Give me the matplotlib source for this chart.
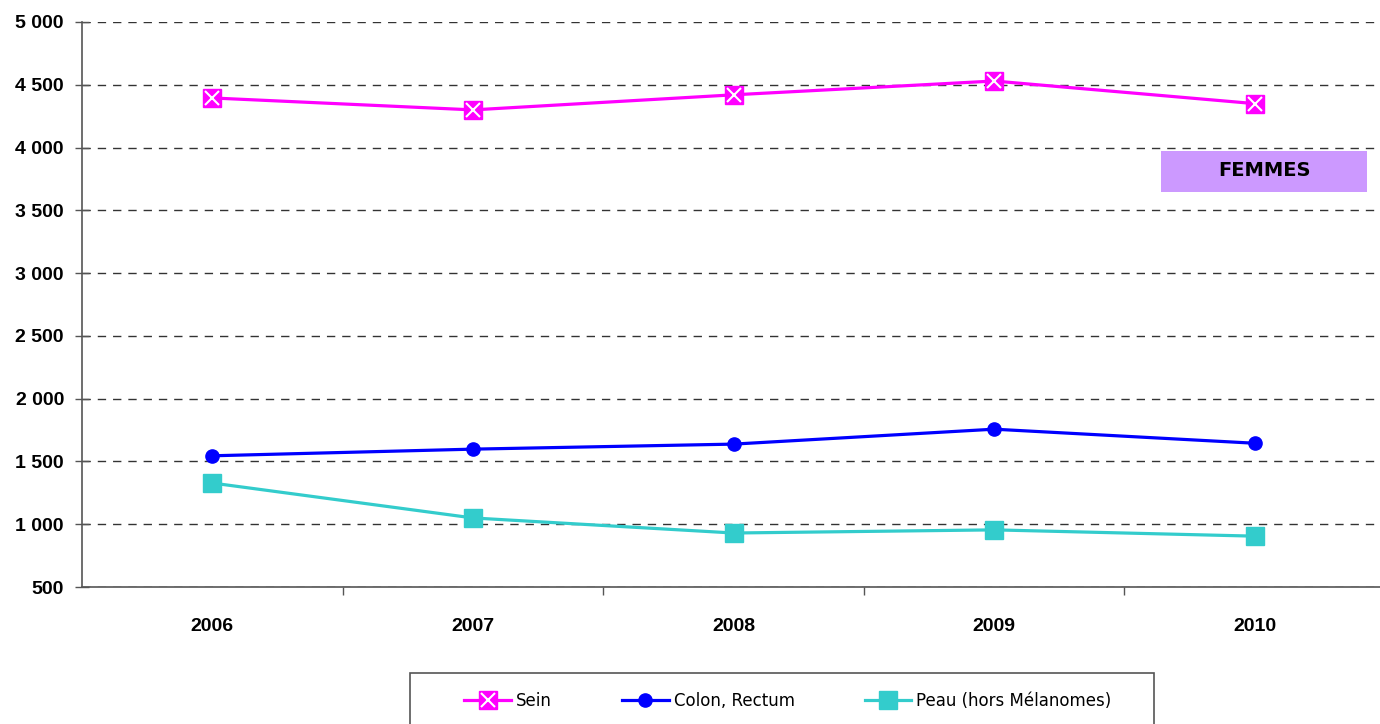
import matplotlib
matplotlib.use("Agg")
import matplotlib.pyplot as plt
from matplotlib.patches import Rectangle
from matplotlib.ticker import FixedLocator, FuncFormatter

years = ["2006", "2007", "2008", "2009", "2010"]
sein = [4395, 4300, 4420, 4530, 4350]
colon = [1545, 1598, 1638, 1757, 1645]
peau = [1328, 1050, 930, 955, 905]
yticks = [500, 1000, 1500, 2000, 2500, 3000, 3500, 4000, 4500, 5000]

W, H = 1380, 724
fig = plt.figure(figsize=(W / 100, H / 100), dpi=100)
ax = fig.add_axes([82 / W, 1 - 587 / H, (1385 - 82) / W, (587 - 22) / H])

x = list(range(len(years)))
pink = "#FF00FF"
blue = "#0000FF"
teal = "#33CCCC"

l1, = ax.plot(x, sein, color=pink, lw=2.3, marker="s", ms=13.5,
              mfc=pink, mec=pink, zorder=4)
l1x, = ax.plot(x, sein, color="none", lw=0, marker="x", ms=9.5,
               mec="white", mew=1.5, zorder=5)
l2, = ax.plot(x, colon, color=blue, lw=2.3, marker="o", ms=9.5,
              mfc=blue, mec=blue, zorder=4)
l3, = ax.plot(x, peau, color=teal, lw=2.3, marker="s", ms=13.5,
              mfc=teal, mec=teal, zorder=3)

ax.set_xlim(-0.5, 4.5)
ax.set_ylim(500, 5000)
ax.yaxis.set_major_locator(FixedLocator(yticks))
ax.yaxis.set_major_formatter(FuncFormatter(lambda v, p: f"{int(v):,}".replace(",", " ")))
ax.set_xticks(x)
ax.set_xticklabels(years)
ax.xaxis.set_minor_locator(FixedLocator([0.5, 1.5, 2.5, 3.5]))

ax.grid(axis="y", color="#333333", linestyle=(0, (6, 5)), lw=1.0)
ax.set_axisbelow(True)
for s in ["top", "right"]:
    ax.spines[s].set_visible(False)
ax.spines["left"].set_color("#555555")
ax.spines["bottom"].set_color("#555555")
ax.spines["left"].set_linewidth(1.2)
ax.spines["bottom"].set_linewidth(1.2)

ax.tick_params(axis="y", direction="inout", length=10, width=1, color="#555555",
               pad=8, labelsize=14)
ax.tick_params(axis="x", which="major", length=0, pad=22, labelsize=14)
ax.tick_params(axis="x", which="minor", direction="out", length=6, width=1,
               color="#555555")
for lab in ax.get_xticklabels() + ax.get_yticklabels():
    lab.set_fontweight("bold")
    lab.set_fontfamily("Liberation Sans")

# FEMMES box
fig.patches.append(Rectangle((1161 / W, 1 - 192 / H), (1367 - 1161) / W, 41 / H,
                             transform=fig.transFigure, facecolor="#CC99FF",
                             edgecolor="none", zorder=1))
fig.text((1161 + 1367) / 2 / W, 1 - 171 / H, "FEMMES", ha="center", va="center",
         fontsize=14, fontweight="bold", family="DejaVu Sans")

# legend frame
fig.patches.append(Rectangle((410 / W, -0.05), (1154 - 410) / W, (1 - 673 / H) + 0.05,
                             transform=fig.transFigure, facecolor="white",
                             edgecolor="#555555", lw=1.2))
leg = fig.legend([(l1, l1x), l2, l3], ["Sein", "Colon, Rectum", "Peau (hors Mélanomes)"],
                 loc="center", bbox_to_anchor=(788 / W, 1 - 701 / H), ncol=3,
                 frameon=False, fontsize=12, handlelength=2.8, handletextpad=0.3,
                 columnspacing=4.2, markerscale=1.0)

fig.savefig("out.png", dpi=100)
